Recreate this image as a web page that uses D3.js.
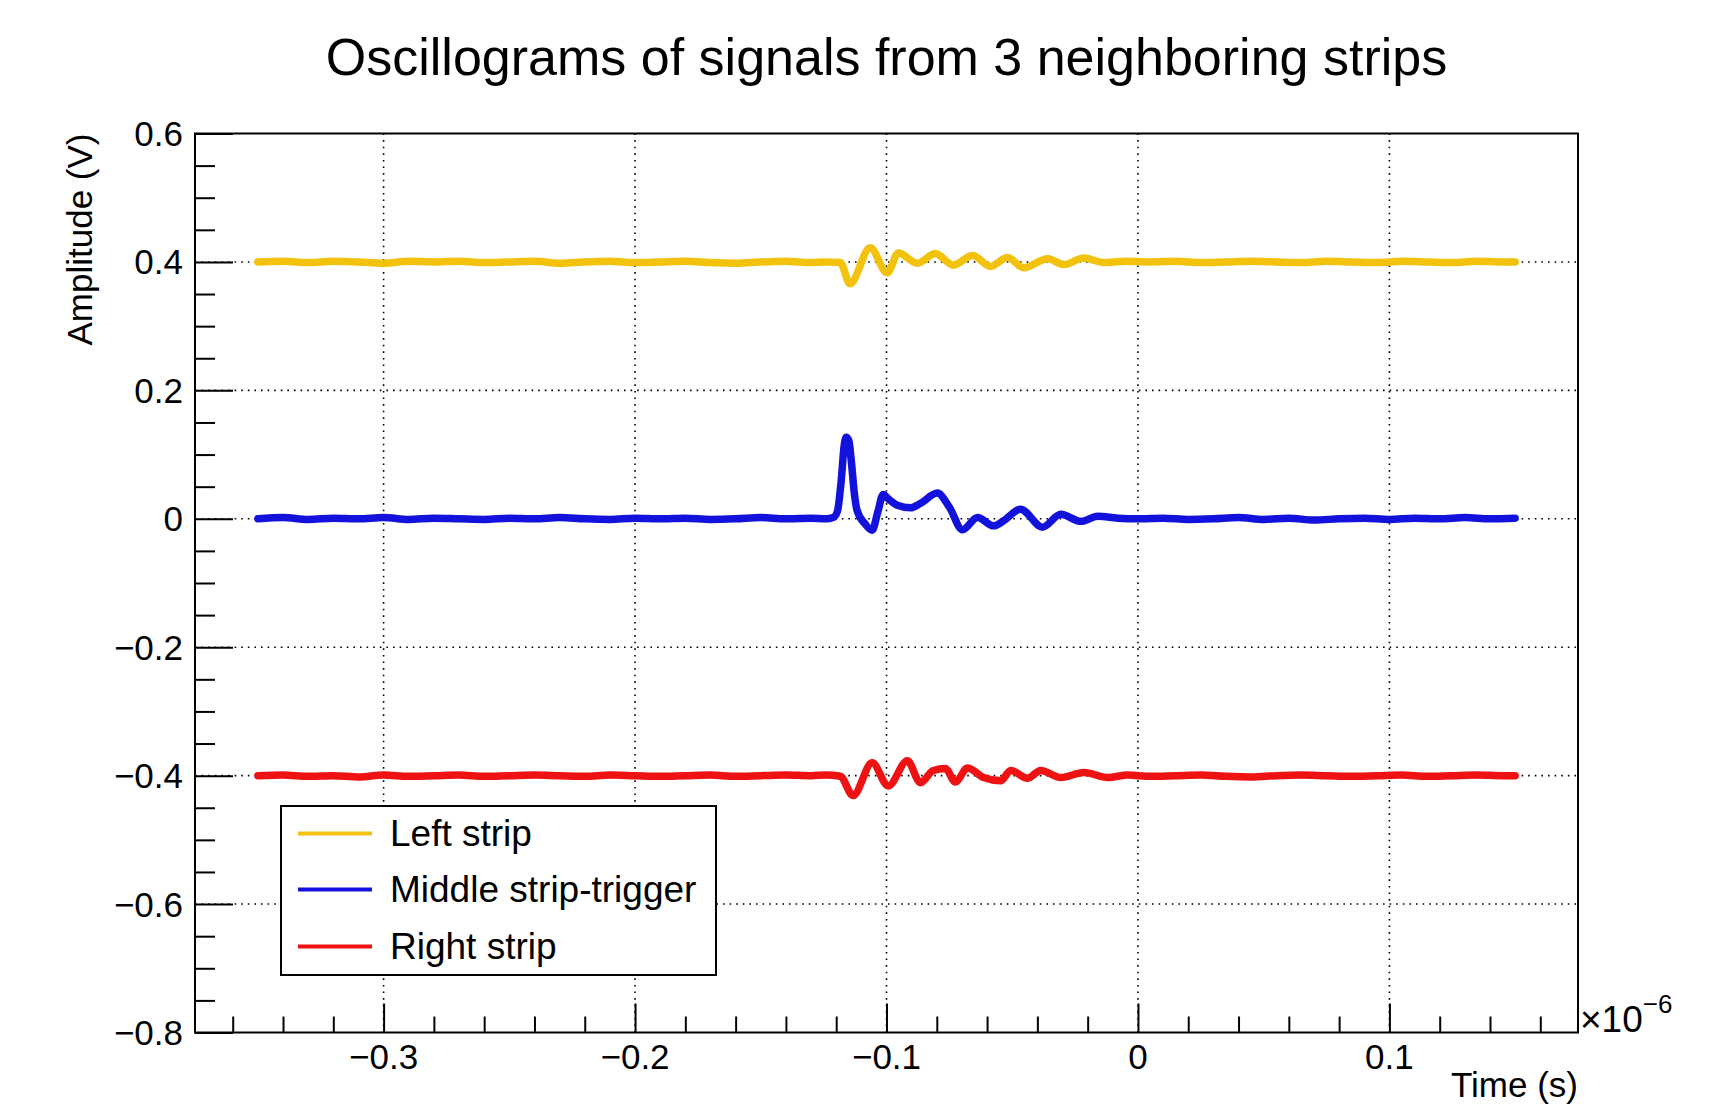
<!DOCTYPE html>
<html>
<head>
<meta charset="utf-8">
<script src="https://cdn.jsdelivr.net/npm/d3@7"></script>
<style>
  html, body { margin: 0; padding: 0; background: #fff; }
  svg { display: block; }
  text { font-family: "Liberation Sans", Arial, Helvetica, sans-serif; fill: #000; }
</style>
</head>
<body>
<svg id="chart" width="1730" height="1106"></svg>
<script>
// ---------------- data (time in units of 1e-6 s, amplitude in V) ----------------
const seriesNames = ["Left strip", "Middle strip-trigger", "Right strip"];

const leftTime = [-0.35,-0.34,-0.33,-0.32,-0.31,-0.30,-0.29,-0.28,-0.27,-0.26,-0.25,-0.24,-0.23,-0.22,-0.21,-0.20,-0.19,-0.18,-0.17,-0.16,-0.15,-0.14,-0.13,-0.124,-0.1184,
  -0.1145,-0.1065,-0.0997,-0.0953,-0.0877,-0.0806,-0.0734,-0.0658,-0.0586,-0.0519,-0.0455,-0.0359,-0.0295,-0.0215,-0.0136,
  -0.005,0.005,0.015,0.025,0.035,0.045,0.055,0.065,0.075,0.085,0.095,0.105,0.115,0.125,0.135,0.145,0.15];
const leftValue = [0.400,0.401,0.399,0.401,0.400,0.398,0.401,0.400,0.401,0.399,0.400,0.401,0.398,0.400,0.401,0.399,0.400,0.401,0.399,0.398,0.400,0.401,0.399,0.400,0.399,
  0.366,0.422,0.383,0.414,0.398,0.413,0.395,0.410,0.393,0.407,0.391,0.405,0.396,0.406,0.399,
  0.401,0.400,0.401,0.399,0.400,0.401,0.400,0.399,0.401,0.400,0.399,0.401,0.400,0.399,0.401,0.400,0.400];

const middleTime = [-0.35,-0.34,-0.33,-0.32,-0.31,-0.30,-0.29,-0.28,-0.27,-0.26,-0.25,-0.24,-0.23,-0.22,-0.21,-0.20,-0.19,-0.18,-0.17,-0.16,-0.15,-0.14,-0.13,-0.124,-0.1212,
  -0.1195,-0.1180,-0.1168,-0.1160,-0.1150,-0.1140,-0.1128,-0.1117,-0.1085,-0.1057,-0.1035,-0.1013,-0.0990,-0.0957,-0.0905,-0.0865,-0.0798,-0.0750,-0.0698,-0.0638,-0.0574,-0.0534,-0.0467,-0.0380,-0.0307,-0.0227,-0.0160,-0.0080,
  0.000,0.01,0.02,0.03,0.04,0.05,0.06,0.07,0.08,0.09,0.10,0.11,0.12,0.13,0.14,0.15];
const middleValue = [0.000,0.002,-0.001,0.001,0.000,0.002,-0.001,0.001,0.000,-0.001,0.001,0.000,0.002,0.000,-0.001,0.001,0.000,0.001,-0.001,0.000,0.002,0.000,0.001,0.000,0.002,
  0.012,0.060,0.115,0.127,0.122,0.090,0.040,0.013,-0.008,-0.018,0.010,0.038,0.030,0.021,0.017,0.024,0.040,0.018,-0.017,0.002,-0.011,-0.003,0.015,-0.013,0.007,-0.004,0.004,0.001,
  0.000,0.001,-0.001,0.000,0.002,-0.001,0.001,-0.002,0.000,0.001,-0.001,0.001,0.000,0.002,0.000,0.001];

const rightTime = [-0.35,-0.34,-0.33,-0.32,-0.31,-0.30,-0.29,-0.28,-0.27,-0.26,-0.25,-0.24,-0.23,-0.22,-0.21,-0.20,-0.19,-0.18,-0.17,-0.16,-0.15,-0.14,-0.13,-0.124,-0.1184,
  -0.1133,-0.1057,-0.0993,-0.0917,-0.0865,-0.0814,-0.0766,-0.0726,-0.0678,-0.0614,-0.0546,-0.0506,-0.0439,-0.0387,-0.0307,-0.0215,-0.0120,
  -0.004,0.005,0.015,0.025,0.035,0.045,0.055,0.065,0.075,0.085,0.095,0.105,0.115,0.125,0.135,0.145,0.15];
const rightValue = [-0.400,-0.399,-0.401,-0.400,-0.402,-0.399,-0.401,-0.400,-0.399,-0.401,-0.400,-0.399,-0.400,-0.401,-0.399,-0.400,-0.401,-0.400,-0.399,-0.401,-0.400,-0.399,-0.400,-0.399,-0.401,
  -0.431,-0.380,-0.416,-0.377,-0.411,-0.392,-0.389,-0.410,-0.388,-0.403,-0.408,-0.392,-0.404,-0.392,-0.403,-0.395,-0.403,
  -0.399,-0.401,-0.400,-0.399,-0.401,-0.402,-0.400,-0.399,-0.400,-0.401,-0.400,-0.399,-0.401,-0.400,-0.399,-0.400,-0.400];

const xMajorTicks = [-0.3, -0.2, -0.1, 0, 0.1];
const xTickLabels = ["\u22120.3", "\u22120.2", "\u22120.1", "0", "0.1"];
const yMajorTicks = [0.6, 0.4, 0.2, 0, -0.2, -0.4, -0.6, -0.8];
const yTickLabels = ["0.6", "0.4", "0.2", "0", "\u22120.2", "\u22120.4", "\u22120.6", "\u22120.8"];

// ---------------- layout ----------------
const W = 1730, H = 1106;
const plot = { left: 195, right: 1578, top: 133.5, bottom: 1032.5 };
const colors = ["#f2c20c", "#1212dc", "#ee1212"];

const svg = d3.select("#chart");
svg.append("rect").attr("width", W).attr("height", H).attr("fill", "#fff");

const x = d3.scaleLinear().domain([-0.375, 0.175]).range([plot.left, plot.right]);
const y = d3.scaleLinear().domain([-0.8, 0.6]).range([plot.bottom, plot.top]);

// grid
const grid = svg.append("g").attr("stroke", "#000").attr("stroke-width", 1.6).attr("stroke-dasharray", "1.6,5");
xMajorTicks.forEach(t => grid.append("line").attr("x1", x(t)).attr("x2", x(t)).attr("y1", plot.top).attr("y2", plot.bottom));
yMajorTicks.filter(v => v < 0.6 && v > -0.8).forEach(v => grid.append("line").attr("y1", y(v)).attr("y2", y(v)).attr("x1", plot.left).attr("x2", plot.right));

// axes (ticks pointing inward, ROOT style)
const xMinor = d3.range(-0.36, 0.1701, 0.02).map(v => Math.round(v * 1000) / 1000).filter(v => !xMajorTicks.some(m => Math.abs(m - v) < 1e-6));
const xAxisMajor = d3.axisBottom(x).tickValues(xMajorTicks).tickSize(-29).tickFormat("");
const xAxisMinor = d3.axisBottom(x).tickValues(xMinor).tickSize(-16).tickFormat("");
const yMinor = d3.range(-0.75, 0.6, 0.05).map(v => Math.round(v * 1000) / 1000).filter(v => !yMajorTicks.some(m => Math.abs(m - v) < 1e-6));
const yAxisMajor = d3.axisLeft(y).tickValues(yMajorTicks).tickSize(-38).tickFormat("");
const yAxisMinor = d3.axisLeft(y).tickValues(yMinor).tickSize(-20).tickFormat("");

[[xAxisMajor, `translate(0,${plot.bottom})`], [xAxisMinor, `translate(0,${plot.bottom})`],
 [yAxisMajor, `translate(${plot.left},0)`], [yAxisMinor, `translate(${plot.left},0)`]].forEach(([ax, tr]) => {
  const g = svg.append("g").attr("transform", tr).call(ax);
  g.select(".domain").remove();
  g.selectAll("line").attr("stroke", "#000").attr("stroke-width", 2);
});

// tick labels
svg.append("g").selectAll("text").data(xMajorTicks).join("text")
  .attr("x", d => x(d)).attr("y", 1069).attr("text-anchor", "middle")
  .attr("font-size", 35).text((d, i) => xTickLabels[i]);
svg.append("g").selectAll("text").data(yMajorTicks).join("text")
  .attr("x", 183).attr("y", d => y(d) + 12.5).attr("text-anchor", "end")
  .attr("font-size", 35).text((d, i) => yTickLabels[i]);

// exponent
const expo = svg.append("text").attr("x", 1580).attr("y", 1032).attr("font-size", 37);
expo.append("tspan").text("\u00d710");
expo.append("tspan").attr("dy", -19).attr("font-size", 26).text("\u22126");

// axis titles
svg.append("text").attr("x", plot.right).attr("y", 1097).attr("text-anchor", "end")
  .attr("font-size", 35).text("Time (s)");
svg.append("text").attr("transform", `translate(92,${plot.top}) rotate(-90)`).attr("text-anchor", "end")
  .attr("font-size", 35).text("Amplitude (V)");

// title
svg.append("text").attr("x", (plot.left + plot.right) / 2).attr("y", 75).attr("text-anchor", "middle")
  .attr("font-size", 52).text("Oscillograms of signals from 3 neighboring strips");

// traces
const line = d3.line().x(d => x(d[0])).y(d => y(d[1])).curve(d3.curveMonotoneX);
const series = [
  d3.zip(leftTime, leftValue),
  d3.zip(middleTime, middleValue),
  d3.zip(rightTime, rightValue)
];
svg.append("clipPath").attr("id", "clip").append("rect")
  .attr("x", plot.left).attr("y", plot.top).attr("width", plot.right - plot.left).attr("height", plot.bottom - plot.top);
series.forEach((s, i) => {
  svg.append("path").datum(s).attr("d", line).attr("fill", "none")
    .attr("stroke", colors[i]).attr("stroke-width", 7.5)
    .attr("stroke-linejoin", "round").attr("stroke-linecap", "round")
    .attr("clip-path", "url(#clip)");
});

// frame
svg.append("rect").attr("x", plot.left).attr("y", plot.top)
  .attr("width", plot.right - plot.left).attr("height", plot.bottom - plot.top)
  .attr("fill", "none").attr("stroke", "#000").attr("stroke-width", 2);

// legend
const lg = { left: 281, top: 806, right: 716, bottom: 975 };
svg.append("rect").attr("x", lg.left).attr("y", lg.top).attr("width", lg.right - lg.left).attr("height", lg.bottom - lg.top)
  .attr("fill", "#fff").attr("stroke", "#000").attr("stroke-width", 2);
const legendBaselines = [846, 902, 959];
seriesNames.forEach((name, i) => {
  svg.append("line").attr("x1", 298).attr("x2", 372)
    .attr("y1", legendBaselines[i] - 12.5).attr("y2", legendBaselines[i] - 12.5)
    .attr("stroke", colors[i]).attr("stroke-width", 4);
  svg.append("text").attr("x", 390).attr("y", legendBaselines[i]).attr("font-size", 37).text(name);
});
</script>
</body>
</html>
